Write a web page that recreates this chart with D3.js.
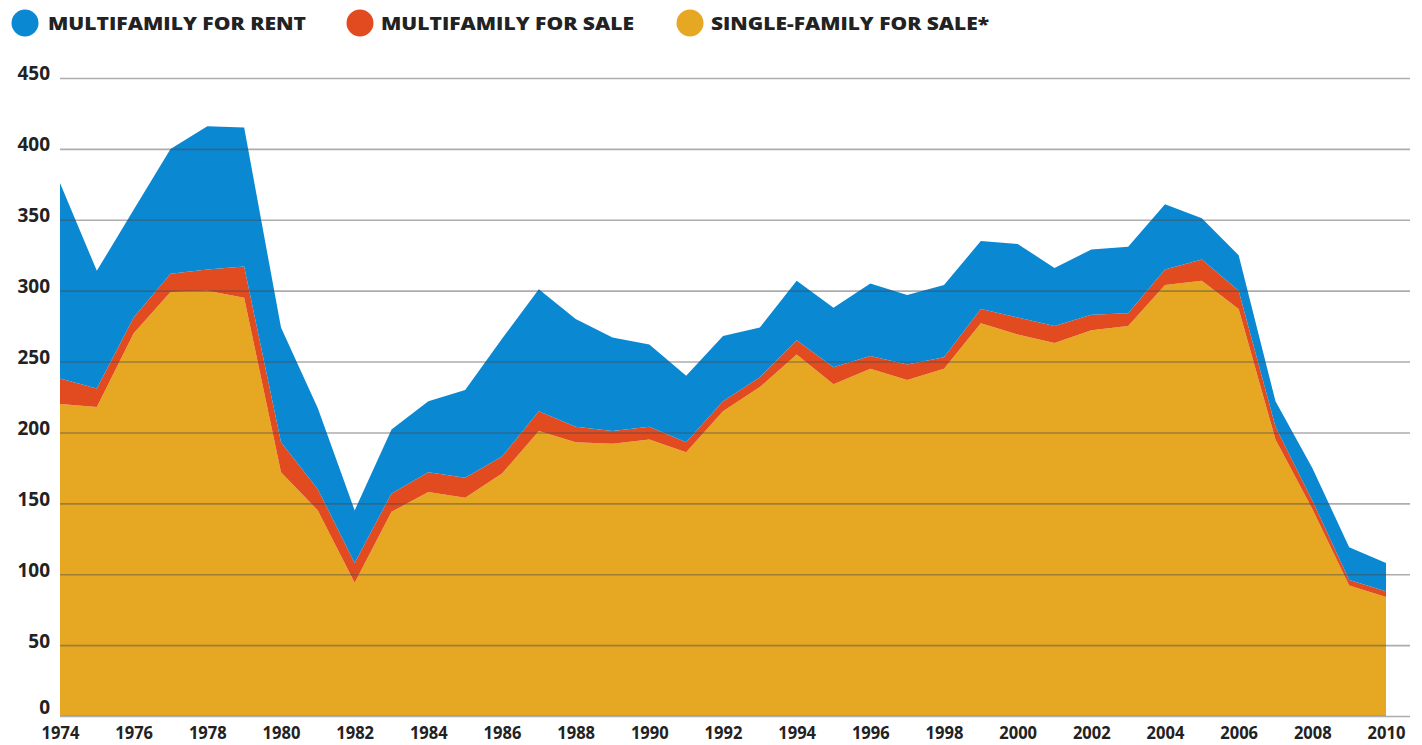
<!DOCTYPE html>
<html>
<head>
<meta charset="utf-8">
<script src="https://cdn.jsdelivr.net/npm/d3@7"></script>
<style>
  body { margin: 0; background: #fff; }
  text { font-family: "Open Sans", sans-serif; font-weight: 800; fill: #222; }
</style>
</head>
<body>
<script>
var years = d3.range(1974, 2011);
// thousands of units, stacked bottom to top
var singleFamilySale = [220,218,270,299,300,295,172,145,94,144,158,154,171,201,193,192,195,186,215,232,255,234,245,237,245,277,269,263,272,275,304,307,287,195,146,92,84];
var multiFamilySale  = [18,13,11,13,15,22,21,15,14,13,14,14,12,14,11,9,9,7,7,7,10,12,9,11,8,10,12,12,11,9,11,15,13,9,6,4,4];
var multiFamilyRent  = [138,83,76,88,101,98,81,57,37,45,50,62,83,86,76,66,58,47,46,35,42,42,51,49,51,48,52,41,46,47,46,29,25,18,23,23,20];
var seriesNames = ["MULTIFAMILY FOR RENT", "MULTIFAMILY FOR SALE", "SINGLE-FAMILY FOR SALE*"];
var seriesColors = ["#0b88d2", "#e14b1f", "#e6a823"];
var yTicks = [0,50,100,150,200,250,300,350,400,450];
var xTicks = d3.range(1974, 2011, 2);

var width = 1422, height = 745;

var svg = d3.select("body").append("svg")
  .attr("width", width).attr("height", height);

var table = years.map(function(y, i) {
  return {year: y, single: singleFamilySale[i], sale: multiFamilySale[i], rent: multiFamilyRent[i]};
});

var x = d3.scaleLinear().domain([1974, 2010]).range([60, 1386]);
var y = d3.scaleLinear().domain([0, 450]).range([716, 78]);

var stack = d3.stack().keys(["single", "sale", "rent"]);
var layers = stack(table);
var colorFor = {single: seriesColors[2], sale: seriesColors[1], rent: seriesColors[0]};

var area = d3.area()
  .x(function(d) { return x(d.data.year); })
  .y0(function(d) { return y(d[0]); })
  .y1(function(d) { return y(d[1]); });

svg.append("g").selectAll("path").data(layers).enter()
  .append("path")
  .attr("d", area)
  .attr("fill", function(d) { return colorFor[d.key]; });

// gridlines over the areas
var grid = d3.axisLeft(y).tickValues(yTicks).tickSize(-(1410 - 60)).tickFormat("");
svg.append("g")
  .attr("transform", "translate(60,0)")
  .call(grid)
  .call(function(g) {
    g.select(".domain").remove();
    g.selectAll("line").attr("stroke", "#4a4a4a").attr("stroke-opacity", 0.45).attr("stroke-width", 1.6);
  });

// y labels
var yAxis = d3.axisLeft(y).tickValues(yTicks).tickSize(0).tickPadding(10);
svg.append("g")
  .attr("transform", "translate(60,0)")
  .call(yAxis)
  .call(function(g) {
    g.select(".domain").remove();
    g.selectAll("text").attr("font-size", 19).attr("fill", "#222")
      .style("font-family", "'Open Sans', sans-serif").style("font-weight", 700)
      .attr("dy", function(d) { return d === 0 ? "-0.12em" : "0.1em"; });
  });

// x labels
var xAxis = d3.axisBottom(x).tickValues(xTicks).tickSize(0).tickPadding(10).tickFormat(d3.format("d"));
svg.append("g")
  .attr("transform", "translate(0,716)")
  .call(xAxis)
  .call(function(g) {
    g.select(".domain").remove();
    g.selectAll("text").attr("font-size", 18).attr("fill", "#222")
      .style("font-family", "'Open Sans', sans-serif").style("font-weight", 700)
      .attr("transform", "scale(0.92,1)");
  });

// legend
var legendX = [25, 360, 690];
var legendW = [258, 253, 278];
var legend = svg.append("g").selectAll("g").data(seriesNames).enter()
  .append("g")
  .attr("transform", function(d, i) { return "translate(" + legendX[i] + ",23)"; });
legend.append("circle").attr("r", 13.5).attr("fill", function(d, i) { return seriesColors[i]; });
legend.append("text")
  .attr("x", function(d, i) { return i === 0 ? 23 : 21; }).attr("y", 6.5)
  .attr("font-size", 17)
  .attr("textLength", function(d, i) { return legendW[i]; })
  .attr("lengthAdjust", "spacingAndGlyphs")
  .text(function(d) { return d; });
</script>
</body>
</html>
